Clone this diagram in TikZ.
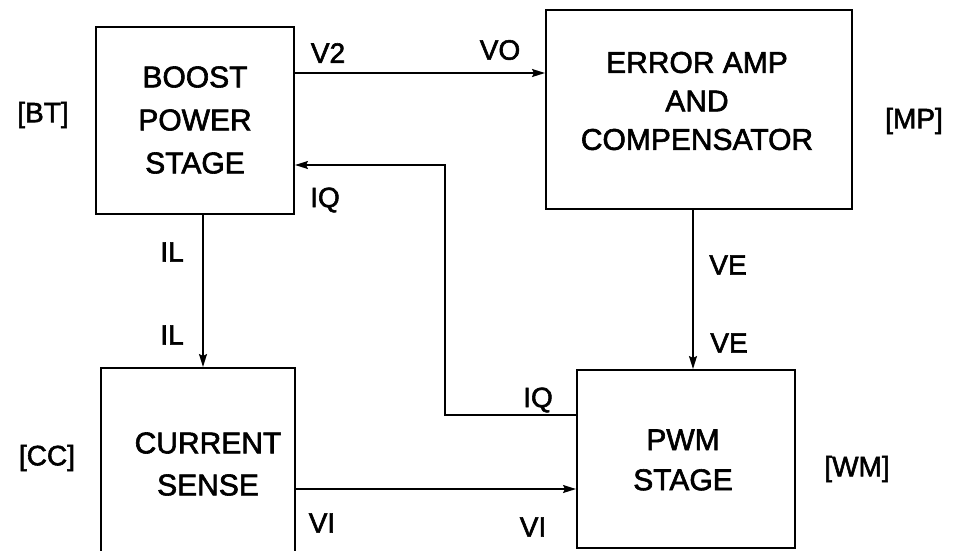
\documentclass[tikz,border=0pt]{standalone}
\usepackage{fontspec}
\setmainfont{Liberation Sans}
\newfontfamily\medfont{Liberation Sans}[FakeBold=2]
\usetikzlibrary{arrows.meta}
\tikzset{
  blk/.style={draw, line width=2pt, inner sep=0pt},
  blktxt/.style={align=center, inner sep=0pt, font=\medfont\fontsize{30}{#1}\selectfont},
  sig/.style={inner sep=0pt, font=\medfont\fontsize{28}{32}\selectfont},
  arr/.style={line width=1.7pt, -{Stealth[length=13pt,width=8pt,inset=2pt]}},
}
\begin{document}
\begin{tikzpicture}[x=1pt,y=-1pt]
\useasboundingbox (0,0) rectangle (953,550);
% blocks
\node[blk, minimum width=198pt, minimum height=187pt] (bt) at (195,120.5) {};
\node[blk, minimum width=306pt, minimum height=199pt] (ea) at (699,109.5) {};
\node[blk, minimum width=194pt, minimum height=212pt] (cc) at (198,474) {};
\node[blk, minimum width=218pt, minimum height=178pt] (wm) at (686,459) {};
% block texts
\node[blktxt=43] (btt) at (195,120) {BOOST\\POWER\\STAGE};
\node[blktxt=38.5] (eat) at (697,101) {ERROR AMP\\AND\\COMPENSATOR};
\node[blktxt=42] (cct) at (208,464) {CURRENT\\SENSE};
\node[blktxt=40] (wmt) at (683,460) {PWM\\STAGE};
% reference tags
\node[sig] (tbt) at (43,115) {[BT]};
\node[sig] (tmp) at (914,121) {[MP]};
\node[sig] (tcc) at (47,458) {[CC]};
\node[sig] (twm) at (857,469) {[WM]};
% connectors
\draw[arr] ([yshift=-47pt]bt.north east) -- ([yshift=-47pt]bt.north east -| ea.west);
\coordinate (iqc) at (445,165);
\draw[arr] ([yshift=-46pt]wm.north west) -| (iqc) -- (iqc -| bt.east);
\draw[arr] ([xshift=8pt]bt.south) -- ([xshift=8pt]bt.south |- cc.north);
\draw[arr] ([xshift=-6pt]ea.south) -- ([xshift=-6pt]ea.south |- wm.north);
\draw[arr] ([yshift=-122pt]cc.north east) -- ([yshift=-122pt]cc.north east -| wm.west);
% signal labels
\node[sig] (lv2) at (328,53) {V2};
\node[sig] (lvo) at (500,50) {VO};
\node[sig] (liq1) at (325,200) {IQ};
\node[sig] (lil1) at (172,252) {IL};
\node[sig] (lil2) at (172,335) {IL};
\node[sig] (lve1) at (728,265) {VE};
\node[sig] (lve2) at (729,343) {VE};
\node[sig] (liq2) at (538,400) {IQ};
\node[sig] (lvi1) at (322,523) {VI};
\node[sig] (lvi2) at (533,527) {VI};
\end{tikzpicture}
\end{document}
